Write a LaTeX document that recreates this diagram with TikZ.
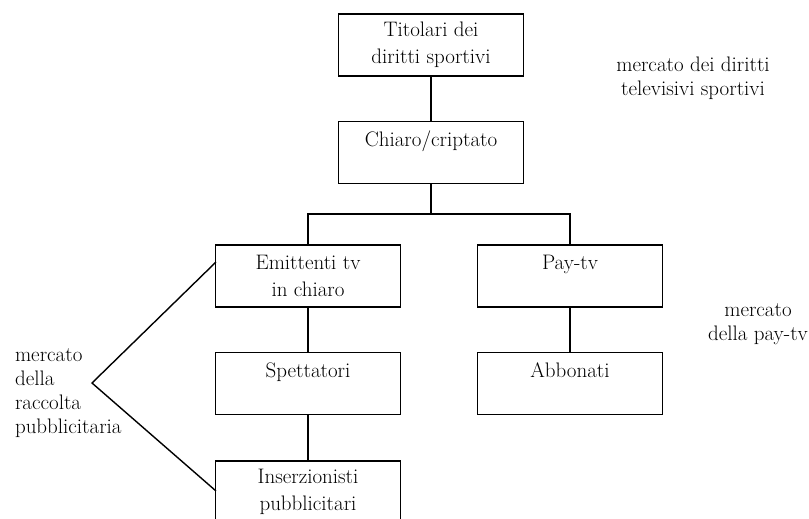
\documentclass[tikz,border=0pt]{standalone}
\usepackage{amsmath, amssymb}
\usepackage{xcolor}
\usepackage{tikz}
\usetikzlibrary{positioning,arrows.meta}

\begin{document}
\begin{tikzpicture}[x=1pt, y=-1pt,
		box/.style={draw, line width=1.6pt, minimum width=185pt, minimum height=62pt, align=center, inner sep=0pt, font=\fontsize{21}{27}\selectfont},
		lbl/.style={align=center, font=\fontsize{21}{24}\selectfont},
		every path/.style={line width=1.4pt}]
				\useasboundingbox (0,0) rectangle (809,519);
				
				\node[box] (tit) at (431,45) {Titolari dei\\diritti sportivi};
				\node[box] (chi) at (431,152.5) {Chiaro/criptato\\\mbox{}};
				
				\node[box] (emi) at (308,276) {Emittenti tv\\in chiaro};
				\node[box] (spe) at (308,383.5) {Spettatori\\\mbox{}};
				\node[box] (ins) at (308,492) {Inserzionisti\\pubblicitari};
				
				\node[box] (pay) at (570,276) {Pay-tv\\\mbox{}};
				\node[box] (abb) at (570,383.5) {Abbonati\\\mbox{}};
				
				\coordinate (split) at (431,214);
				\draw (tit) -- (chi);
				\draw (chi) -- (split);
				\draw (emi.north) |- (split) -| (pay.north);
				\draw (emi) -- (spe);
				\draw (spe) -- (ins);
				\draw (pay) -- (abb);
				
				% parentesi a sinistra
				\coordinate (tip) at (92,383);
				\coordinate (up) at (216,262);
				\coordinate (down) at (216,491);
				\draw (up) -- (tip) -- (down);
				
				\node[lbl] (mdir) at (693,78) {mercato dei diritti\\televisivi sportivi};
				\node[lbl] (mpay) at (758,324) {mercato\\della pay-tv};
				\node[lbl, align=left, anchor=west] (mpub) at (11,393) {mercato\\della\\raccolta\\pubblicitaria};
			\end{tikzpicture}
\end{document}
